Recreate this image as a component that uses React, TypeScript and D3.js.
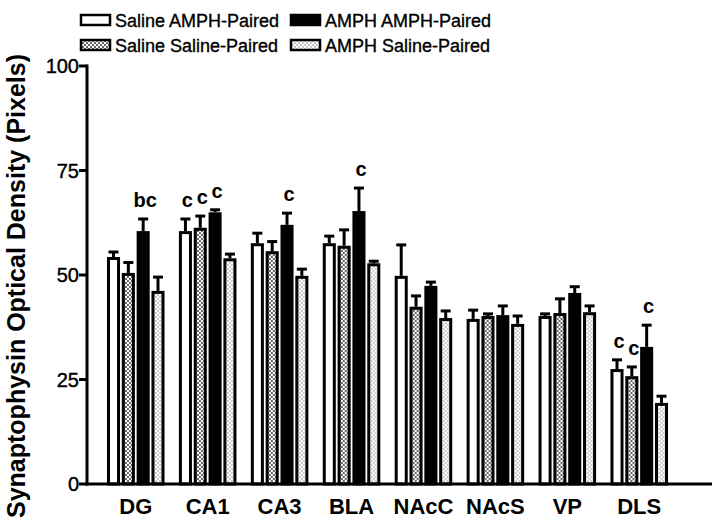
import * as d3 from "d3";

const categories = ["DG", "CA1", "CA3", "BLA", "NAcC", "NAcS", "VP", "DLS"];
const seriesNames = [
  "Saline AMPH-Paired",
  "Saline Saline-Paired",
  "AMPH AMPH-Paired",
  "AMPH Saline-Paired",
];
const salineAmph = [54.3, 60.5, 57.6, 57.6, 49.8, 39.5, 40.2, 27.5];
const salineSaline = [50.5, 61.3, 55.7, 57.0, 42.4, 40.2, 40.9, 25.8];
const amphAmph = [60.5, 65.0, 62.0, 65.3, 47.4, 40.4, 45.7, 32.8];
const amphSaline = [46.2, 54.0, 49.8, 52.8, 39.7, 38.3, 41.1, 19.4];
const salineAmphErr = [1.2, 2.9, 2.4, 1.7, 7.4, 2.1, 0.5, 2.2];
const salineSalineErr = [2.5, 2.8, 2.3, 3.8, 2.6, 0.5, 3.4, 2.2];
const amphAmphErr = [2.9, 0.6, 2.8, 5.5, 0.9, 2.2, 1.5, 5.2];
const amphSalineErr = [3.3, 1.0, 1.6, 0.5, 1.7, 1.9, 1.5, 1.6];
const yTicks = [0, 25, 50, 75, 100];
// significance letters: [category, series index, text]
const letters: [string, number, string][] = [
  ["DG", 2, "bc"],
  ["CA1", 0, "c"],
  ["CA1", 1, "c"],
  ["CA1", 2, "c"],
  ["CA3", 2, "c"],
  ["BLA", 2, "c"],
  ["DLS", 0, "c"],
  ["DLS", 1, "c"],
  ["DLS", 2, "c"],
];

const means = [salineAmph, salineSaline, amphAmph, amphSaline];
const errs = [salineAmphErr, salineSalineErr, amphAmphErr, amphSalineErr];
const fills = ["#fff", "url(#checker)", "#000", "url(#dots)"];

export default function App() {
  const W = 715;
  const H = 531;
  const y = d3.scaleLinear().domain([0, 100]).range([484, 66]);
  const x0 = d3.scaleBand().domain(categories).range([89, 686]).paddingInner(0.2).paddingOuter(0.25);
  const x1 = d3.scaleBand<number>().domain([0, 1, 2, 3]).range([0, x0.bandwidth()]).paddingInner(0.12);
  const font = "'Liberation Sans', Arial, sans-serif";
  const axisX = 87;

  const errTop = (s: number, i: number) => y(means[s][i] + errs[s][i]);

  return (
    <svg width={W} height={H} style={{ position: "absolute", left: 0, top: 0 }} fontFamily={font}>
      <defs>
        <pattern id="checker" width="4" height="4" patternUnits="userSpaceOnUse">
          <rect width="4" height="4" fill="#fff" />
          <rect width="2" height="2" fill="#666" />
          <rect x="2" y="2" width="2" height="2" fill="#666" />
        </pattern>
        <pattern id="dots" width="4" height="4" patternUnits="userSpaceOnUse">
          <rect width="4" height="4" fill="#fff" />
          <rect width="2" height="2" fill="#c8c8c8" />
          <rect x="2" y="2" width="2" height="2" fill="#c8c8c8" />
        </pattern>
      </defs>

      {/* legend */}
      {seriesNames.map((name, s) => {
        const col = s === 0 || s === 1 ? 0 : 1;
        const row = s === 0 || s === 2 ? 0 : 1;
        const lx = col === 0 ? 81 : 291;
        const ly = row === 0 ? 20 : 45;
        return (
          <g key={name}>
            <rect x={lx} y={ly - 5} width={29} height={10} fill={fills[s]} stroke="#000" strokeWidth={2.5} />
            <text x={lx + 34} y={ly + 6.5} fontSize={18} fill="#000" stroke="#000" strokeWidth={0.35}>{name}</text>
          </g>
        );
      })}

      {/* y axis title */}
      <text
        transform={`translate(25,286) rotate(-90)`}
        textAnchor="middle"
        fontSize={25}
        fontWeight="bold"
      >
        Synaptophysin Optical Density (Pixels)
      </text>

      {/* bars */}
      {categories.map((c, i) => (
        <g key={c} transform={`translate(${x0(c)},0)`}>
          {means.map((m, s) => {
            const bx = x1(s)!;
            const bw = x1.bandwidth();
            const top = y(m[i]);
            const et = errTop(s, i);
            const cx = bx + bw / 2;
            return (
              <g key={s}>
                <line x1={cx} x2={cx} y1={top} y2={et} stroke="#000" strokeWidth={3} />
                <line x1={cx - 5} x2={cx + 5} y1={et} y2={et} stroke="#000" strokeWidth={3} />
                <rect x={bx + 1.5} y={top + 1.5} width={bw - 3} height={y(0) - top - 1.5} fill={fills[s]} stroke="#000" strokeWidth={3} />
              </g>
            );
          })}
        </g>
      ))}

      {/* letters */}
      {letters.map(([c, s, t], k) => {
        const i = categories.indexOf(c);
        const cx = x0(c)! + x1(s)! + x1.bandwidth() / 2;
        return (
          <text key={k} x={cx + 2} y={errTop(s, i) - 12} textAnchor="middle" fontSize={20} fontWeight="bold">
            {t}
          </text>
        );
      })}

      {/* axes */}
      <line x1={axisX} x2={axisX} y1={y(100) - 1.5} y2={y(0) + 1.5} stroke="#000" strokeWidth={3} />
      <line x1={axisX - 1.5} x2={712} y1={y(0)} y2={y(0)} stroke="#000" strokeWidth={3} />
      {yTicks.map((t) => (
        <g key={t}>
          <line x1={axisX - 8} x2={axisX} y1={y(t)} y2={y(t)} stroke="#000" strokeWidth={3} />
          <text x={axisX - 8} y={y(t) + 7} textAnchor="end" fontSize={20} fill="#000" stroke="#000" strokeWidth={0.4}>{t}</text>
        </g>
      ))}
      {categories.map((c) => (
        <text key={c} x={x0(c)! + x0.bandwidth() / 2} y={514} textAnchor="middle" fontSize={22} fontWeight="bold">
          {c}
        </text>
      ))}
    </svg>
  );
}
